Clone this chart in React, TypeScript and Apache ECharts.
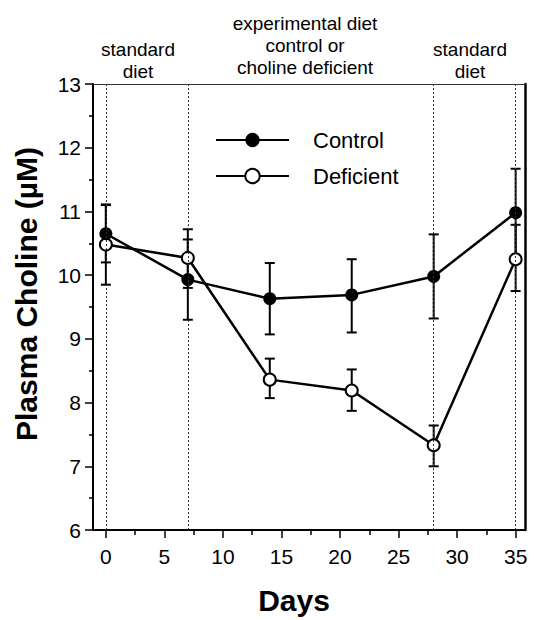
import React, { useEffect, useRef } from 'react';
import * as echarts from 'echarts';

const days = [0, 7, 14, 21, 28, 35];
const controlMean = [10.65, 9.93, 9.63, 9.69, 9.98, 10.98];
const controlLow = [10.2, 9.3, 9.07, 9.1, 9.32, 10.29];
const controlHigh = [11.1, 10.56, 10.19, 10.25, 10.64, 11.67];
const deficientMean = [10.48, 10.27, 8.36, 8.19, 7.33, 10.25];
const deficientLow = [9.85, 9.8, 8.07, 7.87, 7.0, 9.75];
const deficientHigh = [11.11, 10.72, 8.69, 8.52, 7.64, 10.79];
const dietBoundaries = [0, 7, 28, 35];
const xTickValues = [0, 5, 10, 15, 20, 25, 30, 35];
const xMinorTickValues = [2.5, 7.5, 12.5, 17.5, 22.5, 27.5, 32.5];
const phaseLabels = [
  { text: 'standard\ndiet', x: 138 },
  { text: 'experimental diet\ncontrol or\ncholine deficient', x: 305 },
  { text: 'standard\ndiet', x: 470 },
];

const FONT = "'Liberation Sans', Arial, Helvetica, sans-serif";

function errorBarRender(params: any, api: any) {
  const x = api.value(0);
  const lo = api.coord([x, api.value(1)]);
  const hi = api.coord([x, api.value(2)]);
  const w = 5;
  const st = { stroke: '#000', lineWidth: 2 };
  return {
    type: 'group',
    children: [
      { type: 'line', shape: { x1: lo[0], y1: lo[1], x2: hi[0], y2: hi[1] }, style: st },
      { type: 'line', shape: { x1: lo[0] - w, y1: lo[1], x2: lo[0] + w, y2: lo[1] }, style: st },
      { type: 'line', shape: { x1: hi[0] - w, y1: hi[1], x2: hi[0] + w, y2: hi[1] }, style: st },
    ],
  };
}

export default function App() {
  const ref = useRef<HTMLDivElement>(null);
  useEffect(() => {
    if (!ref.current) return;
    const chart = echarts.init(ref.current, undefined, { renderer: 'svg' });
    const xMin = -1.1;
    const xMax = 35.8;
    const option: any = {
      animation: false,
      backgroundColor: '#fff',
      grid: { left: 93, right: 9, top: 84, bottom: 83, show: false },
      graphic: phaseLabels.map((p, i) => ({
        type: 'text',
        x: p.x,
        y: i === 1 ? 12 : 38,
        style: {
          text: p.text,
          fontSize: 19,
          fontFamily: FONT,
          fill: '#000',
          align: 'center',
          verticalAlign: 'top',
          lineHeight: 22,
        },
      })),
      legend: {
        orient: 'vertical',
        left: 210,
        top: 124,
        itemWidth: 73,
        itemHeight: 18,
        itemGap: 14,
        data: ['Control', 'Deficient'],
        textStyle: { fontSize: 22, color: '#000', fontFamily: FONT, padding: [0, 0, 0, 19] },
      },
      xAxis: [
        {
          type: 'value',
          min: xMin,
          max: xMax,
          position: 'bottom',
          name: 'Days',
          nameLocation: 'middle',
          nameGap: 55,
          nameTextStyle: {
            fontSize: 30,
            fontWeight: 'bold',
            color: '#000',
            fontFamily: FONT,
            padding: [0, 30, 0, 0],
          },
          axisLine: { show: true, onZero: false, lineStyle: { color: '#000', width: 2 } },
          axisTick: { show: true, length: 8, customValues: xTickValues, lineStyle: { color: '#000', width: 1.5 } },
          axisLabel: { customValues: xTickValues, fontSize: 21, color: '#000', fontFamily: FONT, margin: 16 },
          splitLine: { show: false },
        },
        {
          type: 'value',
          min: xMin,
          max: xMax,
          position: 'bottom',
          axisLine: { show: false, onZero: false },
          axisTick: { show: true, length: 5, customValues: xMinorTickValues, lineStyle: { color: '#000', width: 1.5 } },
          axisLabel: { show: false },
          splitLine: { show: false },
        },
        {
          type: 'value',
          min: xMin,
          max: xMax,
          position: 'top',
          axisLine: { show: true, onZero: false, lineStyle: { color: '#333', width: 1 } },
          axisTick: { show: false },
          axisLabel: { show: false },
          splitLine: { show: false },
        },
      ],
      yAxis: [
        {
          type: 'value',
          min: 6,
          max: 13,
          interval: 1,
          position: 'left',
          name: 'Plasma Choline (µM)',
          nameLocation: 'middle',
          nameGap: 52,
          nameTextStyle: {
            fontSize: 30,
            fontWeight: 'bold',
            color: '#000',
            fontFamily: FONT,
            padding: [0, 0, 0, 26],
          },
          axisLine: { show: true, onZero: false, lineStyle: { color: '#000', width: 2 } },
          axisTick: { show: true, length: 8, lineStyle: { color: '#000', width: 1.5 } },
          minorTick: { show: true, splitNumber: 2, length: 4, lineStyle: { color: '#000', width: 1.5 } },
          axisLabel: { fontSize: 21, color: '#000', fontFamily: FONT, margin: 12 },
          splitLine: { show: false },
        },
        {
          type: 'value',
          min: 6,
          max: 13,
          position: 'right',
          axisLine: { show: true, onZero: false, lineStyle: { color: '#000', width: 2.5 } },
          axisTick: { show: false },
          axisLabel: { show: false },
          splitLine: { show: false },
        },
      ],
      series: [
        {
          type: 'custom',
          name: 'controlErr',
          renderItem: errorBarRender,
          encode: { x: 0, y: [1, 2] },
          data: days.map((d, i) => [d, controlLow[i], controlHigh[i]]),
          z: 2,
          silent: true,
        },
        {
          type: 'custom',
          name: 'deficientErr',
          renderItem: errorBarRender,
          encode: { x: 0, y: [1, 2] },
          data: days.map((d, i) => [d, deficientLow[i], deficientHigh[i]]),
          z: 2,
          silent: true,
        },
        {
          type: 'line',
          name: 'Deficient',
          data: days.map((d, i) => [d, deficientMean[i]]),
          symbol: 'circle',
          symbolSize: 12,
          lineStyle: { color: '#000', width: 2.5 },
          itemStyle: { color: '#fff', borderColor: '#000', borderWidth: 2 },
          z: 3,
          markLine: {
            silent: true,
            symbol: ['none', 'none'],
            label: { show: false },
            lineStyle: { color: '#333', width: 1, type: [2, 2] },
            data: dietBoundaries.map((v) => ({ xAxis: v })),
          },
        },
        {
          type: 'line',
          name: 'Control',
          data: days.map((d, i) => [d, controlMean[i]]),
          symbol: 'circle',
          symbolSize: 13,
          lineStyle: { color: '#000', width: 2.5 },
          itemStyle: { color: '#000', borderColor: '#000', borderWidth: 0 },
          z: 4,
        },
      ],
    };
    chart.setOption(option);
    return () => chart.dispose();
  }, []);
  return (
    <div
      ref={ref}
      style={{ position: 'fixed', left: 0, top: 0, width: 534, height: 620, background: '#fff' }}
    />
  );
}
